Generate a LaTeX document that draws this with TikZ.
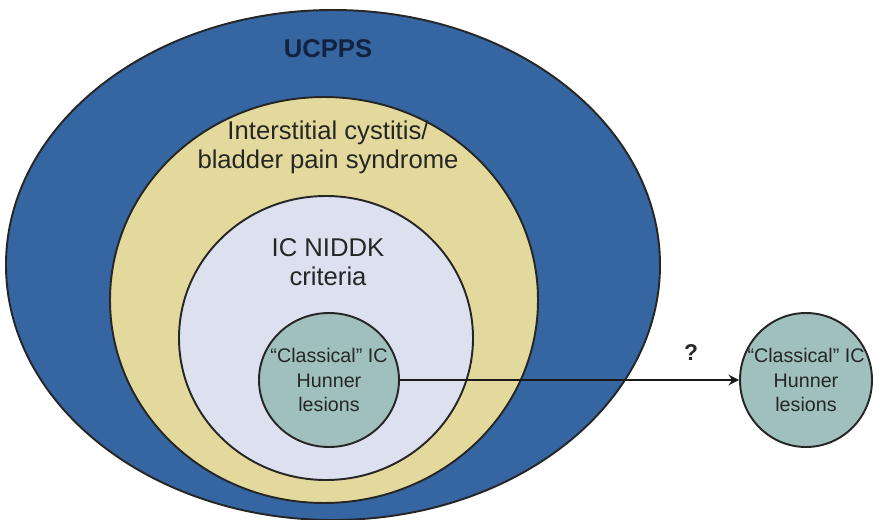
\documentclass[tikz,border=0pt]{standalone}
\usepackage{fontspec}
\setmainfont{Liberation Sans}
\usepackage{tikz}
\usetikzlibrary{shapes.geometric}

\definecolor{ucblue}{HTML}{3566A2}
\definecolor{icyellow}{HTML}{E3D99C}
\definecolor{niddklav}{HTML}{DCE0EF}
\definecolor{hunnerteal}{HTML}{A0C0BD}
\definecolor{navytext}{HTML}{13223F}
\definecolor{graytext}{HTML}{262626}

\begin{document}
\begin{tikzpicture}[
    >=stealth,
    line cap=round,
    line join=round,
    scale=1,
    region/.style={ellipse, draw=black!85, line width=1.1pt, inner sep=0pt},
    biglabel/.style={align=center, text=graytext, font=\fontsize{14.6}{16.6}\selectfont},
    smalllabel/.style={align=center, text=graytext, font=\fontsize{11.2}{14.2}\selectfont}
]

\useasboundingbox (0,0) rectangle (17.6,10.38);

%------------------------------------------------
% Nested regions
%------------------------------------------------
\node[region, fill=ucblue, minimum width=13.08cm, minimum height=10.2cm]
    (ucpps) at (6.66,5.08) {};

\node[region, fill=icyellow, minimum width=8.56cm, minimum height=8.12cm]
    (icbps) at (6.48,4.38) {};

\node[region, fill=niddklav, minimum width=5.88cm, minimum height=5.68cm]
    (niddk) at (6.52,3.62) {};

\node[region, fill=hunnerteal, minimum width=2.80cm, minimum height=2.68cm]
    (hunner) at (6.58,2.78) {};

%------------------------------------------------
% Separate Hunner lesion circle
%------------------------------------------------
\node[region, fill=hunnerteal, minimum width=2.64cm, minimum height=2.68cm]
    (hunnerout) at (16.12,2.78) {};

%------------------------------------------------
% Arrow
%------------------------------------------------
\draw[->, line width=1.6pt, black!90] (hunner.east) -- (hunnerout.west);

\node[font=\bfseries\fontsize{13}{15}\selectfont, text=graytext]
    (question) at (13.82,3.32) {?};

%------------------------------------------------
% Labels
%------------------------------------------------
\node[font=\bfseries\fontsize{14.6}{16.6}\selectfont, text=navytext]
    (ucppslabel) at (6.56,9.40) {UCPPS};

\node[biglabel] (icbpslabel) at (6.56,7.44)
    {Interstitial cystitis/\\bladder pain syndrome};

\node[biglabel] (niddklabel) at (6.56,5.14)
    {IC NIDDK\\criteria};

\node[smalllabel] (hunnerlabel) at (hunner.center)
    {“Classical” IC\\Hunner\\lesions};

\node[smalllabel] (hunneroutlabel) at (hunnerout.center)
    {“Classical” IC\\Hunner\\lesions};

\end{tikzpicture}
\end{document}
